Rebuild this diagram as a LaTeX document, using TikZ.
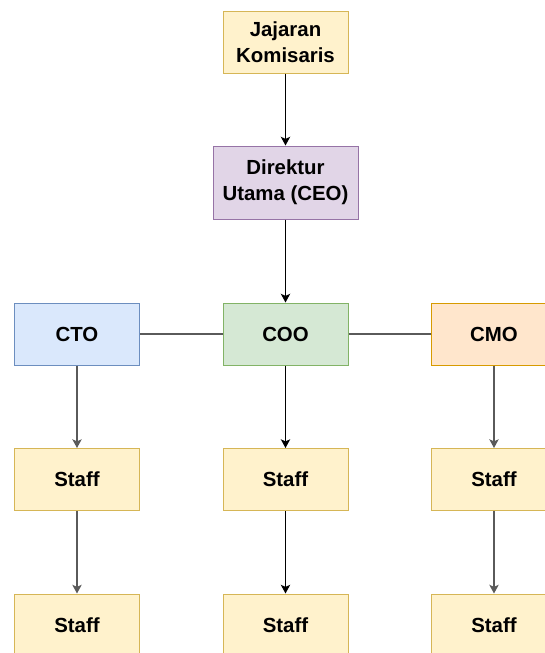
\documentclass[tikz,border=0pt]{standalone}
\usepackage{fontspec}
\setmainfont{Liberation Sans}
\usetikzlibrary{arrows.meta}

\definecolor{yelfill}{HTML}{FFF2CC}\definecolor{yelline}{HTML}{D6B656}
\definecolor{purfill}{HTML}{E1D5E7}\definecolor{purline}{HTML}{9673A6}
\definecolor{blufill}{HTML}{DAE8FC}\definecolor{bluline}{HTML}{6C8EBF}
\definecolor{grnfill}{HTML}{D5E8D4}\definecolor{grnline}{HTML}{82B366}
\definecolor{orafill}{HTML}{FFE6CC}\definecolor{oraline}{HTML}{D79B00}
\definecolor{linegray}{HTML}{5A5A5A}

\tikzstyle{box}=[draw,rectangle,line width=0.75pt,minimum width=93.75pt,minimum height=46.5pt,
  align=center,inner sep=0pt,font=\bfseries\fontsize{15.3}{19.3}\selectfont]
\tikzstyle{yelbox}=[box,fill=yelfill,draw=yelline]
\tikzstyle{link}=[line width=0.9pt,-{Stealth[length=6.5pt,width=7pt,inset=1.5pt]}]

\begin{document}
\begin{tikzpicture}[x=0.75pt,y=-0.75pt]
        \useasboundingbox (0,0) rectangle (544,653);
        %% The top of the chart
        \node[yelbox] (kom) at (285.5,42) {Jajaran\\Komisaris};
        \node[box,fill=purfill,draw=purline,minimum width=108.75pt,minimum height=54.75pt] (ceo) at (285.5,182.5) {Direktur\\Utama (CEO)};
        \draw[link] (kom) -- (ceo);
        %% The chiefs
        \node[box,fill=blufill,draw=bluline] (cto) at (77,334) {CTO};
        \node[box,fill=grnfill,draw=grnline] (coo) at (285.5,334) {COO};
        \node[box,fill=orafill,draw=oraline] (cmo) at (494,334) {CMO};
        \draw[link] (ceo) -- (coo);
        \draw[line width=0.9pt,linegray] (cto) -- (coo) (coo) -- (cmo);
        %%% The staff under each chief
        \foreach \col/\xpos/\boss/\lc in {a/77/cto/linegray,b/285.5/coo/black,c/494/cmo/linegray}
        {
        \node[yelbox] (staff1\col) at (\xpos,479.5) {Staff};
        \node[yelbox] (staff2\col) at (\xpos,625) {Staff};
        \draw[link,\lc] (\boss) -- (staff1\col);
        \draw[link,\lc] (staff1\col) -- (staff2\col);
        }
    \end{tikzpicture}
\end{document}
